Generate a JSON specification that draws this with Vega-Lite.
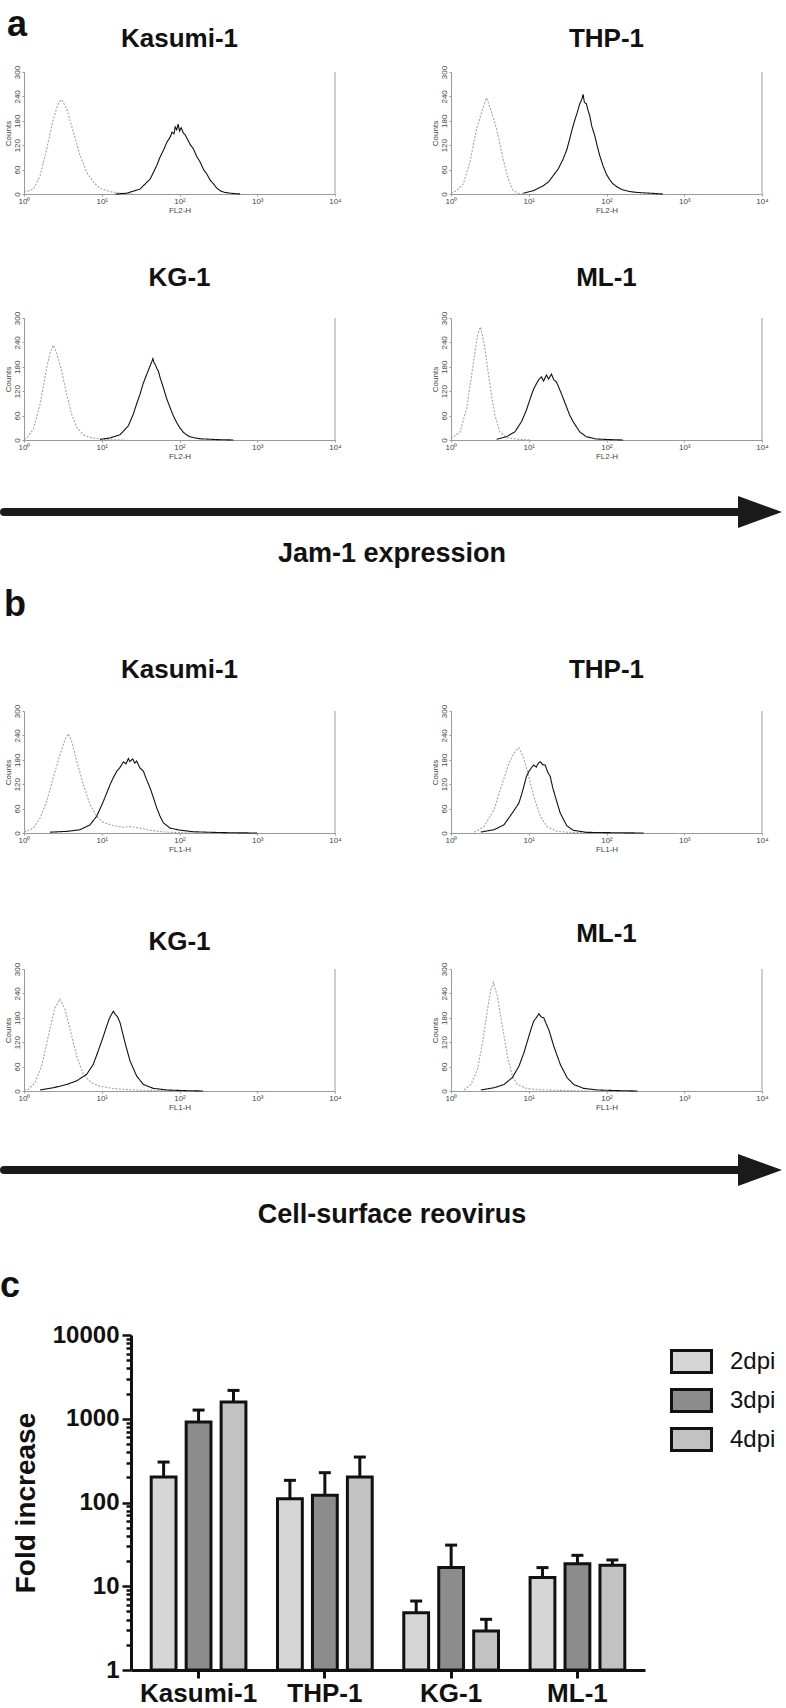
{
  "$schema": "https://vega.github.io/schema/vega-lite/v6.json",
  "padding": {"top": 7, "left": 0, "right": 0, "bottom": 0},
  "background": "white",
  "config": {
    "font": "Liberation Sans",
    "view": {"stroke": null},
    "title": {"font": "Liberation Sans", "color": "#111111"},
    "axis": {"grid": false, "domainColor": "#9a9a9a", "tickColor": "#9a9a9a", "labelColor": "#444444", "titleColor": "#444444", "labelFontSize": 8, "titleFontSize": 8, "titleFontWeight": "normal", "tickSize": 2, "labelPadding": 1, "titlePadding": 1, "labelFlush": false, "labelFont": "Liberation Sans", "titleFont": "Liberation Sans"},
    "axisY": {"labelAngle": 270, "labelAlign": "center", "labelBaseline": "bottom", "labelPadding": 1, "titlePadding": 1}
  },
  "datasets": {
    "hist": [
      {"panel":"a","cell":"Kasumi-1","series":"control","fl":1.0,"count":8},{"panel":"a","cell":"Kasumi-1","series":"control","fl":1.08,"count":6},{"panel":"a","cell":"Kasumi-1","series":"control","fl":1.32,"count":12},{"panel":"a","cell":"Kasumi-1","series":"control","fl":1.61,"count":45},{"panel":"a","cell":"Kasumi-1","series":"control","fl":1.96,"count":111},{"panel":"a","cell":"Kasumi-1","series":"control","fl":2.39,"count":185},{"panel":"a","cell":"Kasumi-1","series":"control","fl":2.77,"count":224},{"panel":"a","cell":"Kasumi-1","series":"control","fl":3.05,"count":232},{"panel":"a","cell":"Kasumi-1","series":"control","fl":3.54,"count":210},{"panel":"a","cell":"Kasumi-1","series":"control","fl":4.32,"count":152},{"panel":"a","cell":"Kasumi-1","series":"control","fl":5.26,"count":95},{"panel":"a","cell":"Kasumi-1","series":"control","fl":6.41,"count":53},{"panel":"a","cell":"Kasumi-1","series":"control","fl":7.81,"count":29},{"panel":"a","cell":"Kasumi-1","series":"control","fl":9.5,"count":14},{"panel":"a","cell":"Kasumi-1","series":"control","fl":12.8,"count":6},{"panel":"a","cell":"Kasumi-1","series":"control","fl":17.2,"count":2},{"panel":"a","cell":"Kasumi-1","series":"control","fl":25,"count":0},
      {"panel":"a","cell":"Kasumi-1","series":"sample","fl":15,"count":0},{"panel":"a","cell":"Kasumi-1","series":"sample","fl":21,"count":2},{"panel":"a","cell":"Kasumi-1","series":"sample","fl":31,"count":12},{"panel":"a","cell":"Kasumi-1","series":"sample","fl":42,"count":37},{"panel":"a","cell":"Kasumi-1","series":"sample","fl":51,"count":70},{"panel":"a","cell":"Kasumi-1","series":"sample","fl":56,"count":90},{"panel":"a","cell":"Kasumi-1","series":"sample","fl":62,"count":107},{"panel":"a","cell":"Kasumi-1","series":"sample","fl":69,"count":128},{"panel":"a","cell":"Kasumi-1","series":"sample","fl":76,"count":140},{"panel":"a","cell":"Kasumi-1","series":"sample","fl":80,"count":152},{"panel":"a","cell":"Kasumi-1","series":"sample","fl":85,"count":148},{"panel":"a","cell":"Kasumi-1","series":"sample","fl":88,"count":165},{"panel":"a","cell":"Kasumi-1","series":"sample","fl":92,"count":158},{"panel":"a","cell":"Kasumi-1","series":"sample","fl":96,"count":172},{"panel":"a","cell":"Kasumi-1","series":"sample","fl":100,"count":155},{"panel":"a","cell":"Kasumi-1","series":"sample","fl":105,"count":163},{"panel":"a","cell":"Kasumi-1","series":"sample","fl":112,"count":150},{"panel":"a","cell":"Kasumi-1","series":"sample","fl":118,"count":146},{"panel":"a","cell":"Kasumi-1","series":"sample","fl":124,"count":138},{"panel":"a","cell":"Kasumi-1","series":"sample","fl":137,"count":122},{"panel":"a","cell":"Kasumi-1","series":"sample","fl":151,"count":111},{"panel":"a","cell":"Kasumi-1","series":"sample","fl":167,"count":92},{"panel":"a","cell":"Kasumi-1","series":"sample","fl":185,"count":78},{"panel":"a","cell":"Kasumi-1","series":"sample","fl":204,"count":60},{"panel":"a","cell":"Kasumi-1","series":"sample","fl":225,"count":49},{"panel":"a","cell":"Kasumi-1","series":"sample","fl":248,"count":34},{"panel":"a","cell":"Kasumi-1","series":"sample","fl":274,"count":25},{"panel":"a","cell":"Kasumi-1","series":"sample","fl":300,"count":15},{"panel":"a","cell":"Kasumi-1","series":"sample","fl":334,"count":8},{"panel":"a","cell":"Kasumi-1","series":"sample","fl":380,"count":4},{"panel":"a","cell":"Kasumi-1","series":"sample","fl":449,"count":2},{"panel":"a","cell":"Kasumi-1","series":"sample","fl":603,"count":0},
      {"panel":"a","cell":"THP-1","series":"control","fl":1.0,"count":2},{"panel":"a","cell":"THP-1","series":"control","fl":1.18,"count":8},{"panel":"a","cell":"THP-1","series":"control","fl":1.44,"count":25},{"panel":"a","cell":"THP-1","series":"control","fl":1.75,"count":78},{"panel":"a","cell":"THP-1","series":"control","fl":2.13,"count":160},{"panel":"a","cell":"THP-1","series":"control","fl":2.48,"count":201},{"panel":"a","cell":"THP-1","series":"control","fl":2.72,"count":225},{"panel":"a","cell":"THP-1","series":"control","fl":2.87,"count":236},{"panel":"a","cell":"THP-1","series":"control","fl":3.05,"count":222},{"panel":"a","cell":"THP-1","series":"control","fl":3.33,"count":201},{"panel":"a","cell":"THP-1","series":"control","fl":3.86,"count":160},{"panel":"a","cell":"THP-1","series":"control","fl":4.69,"count":86},{"panel":"a","cell":"THP-1","series":"control","fl":5.44,"count":37},{"panel":"a","cell":"THP-1","series":"control","fl":6.31,"count":8},{"panel":"a","cell":"THP-1","series":"control","fl":7.31,"count":2},{"panel":"a","cell":"THP-1","series":"control","fl":8.5,"count":0},
      {"panel":"a","cell":"THP-1","series":"sample","fl":8.5,"count":2},{"panel":"a","cell":"THP-1","series":"sample","fl":11.4,"count":8},{"panel":"a","cell":"THP-1","series":"sample","fl":15.3,"count":20},{"panel":"a","cell":"THP-1","series":"sample","fl":18,"count":30},{"panel":"a","cell":"THP-1","series":"sample","fl":20.6,"count":45},{"panel":"a","cell":"THP-1","series":"sample","fl":24,"count":62},{"panel":"a","cell":"THP-1","series":"sample","fl":27.7,"count":86},{"panel":"a","cell":"THP-1","series":"sample","fl":31,"count":110},{"panel":"a","cell":"THP-1","series":"sample","fl":33.7,"count":136},{"panel":"a","cell":"THP-1","series":"sample","fl":36,"count":158},{"panel":"a","cell":"THP-1","series":"sample","fl":39,"count":181},{"panel":"a","cell":"THP-1","series":"sample","fl":42,"count":200},{"panel":"a","cell":"THP-1","series":"sample","fl":45.3,"count":222},{"panel":"a","cell":"THP-1","series":"sample","fl":48,"count":232},{"panel":"a","cell":"THP-1","series":"sample","fl":50,"count":245},{"panel":"a","cell":"THP-1","series":"sample","fl":52,"count":225},{"panel":"a","cell":"THP-1","series":"sample","fl":55.1,"count":222},{"panel":"a","cell":"THP-1","series":"sample","fl":58,"count":205},{"panel":"a","cell":"THP-1","series":"sample","fl":60.8,"count":193},{"panel":"a","cell":"THP-1","series":"sample","fl":65,"count":165},{"panel":"a","cell":"THP-1","series":"sample","fl":70.5,"count":144},{"panel":"a","cell":"THP-1","series":"sample","fl":76,"count":118},{"panel":"a","cell":"THP-1","series":"sample","fl":81.7,"count":95},{"panel":"a","cell":"THP-1","series":"sample","fl":90,"count":70},{"panel":"a","cell":"THP-1","series":"sample","fl":99.5,"count":49},{"panel":"a","cell":"THP-1","series":"sample","fl":110,"count":35},{"panel":"a","cell":"THP-1","series":"sample","fl":121,"count":25},{"panel":"a","cell":"THP-1","series":"sample","fl":140,"count":16},{"panel":"a","cell":"THP-1","series":"sample","fl":163,"count":10},{"panel":"a","cell":"THP-1","series":"sample","fl":200,"count":6},{"panel":"a","cell":"THP-1","series":"sample","fl":241,"count":4},{"panel":"a","cell":"THP-1","series":"sample","fl":358,"count":2},{"panel":"a","cell":"THP-1","series":"sample","fl":531,"count":0},
      {"panel":"a","cell":"KG-1","series":"control","fl":1.0,"count":2},{"panel":"a","cell":"KG-1","series":"control","fl":1.08,"count":4},{"panel":"a","cell":"KG-1","series":"control","fl":1.32,"count":27},{"panel":"a","cell":"KG-1","series":"control","fl":1.61,"count":88},{"panel":"a","cell":"KG-1","series":"control","fl":1.96,"count":178},{"panel":"a","cell":"KG-1","series":"control","fl":2.16,"count":214},{"panel":"a","cell":"KG-1","series":"control","fl":2.38,"count":233},{"panel":"a","cell":"KG-1","series":"control","fl":2.63,"count":214},{"panel":"a","cell":"KG-1","series":"control","fl":3.05,"count":170},{"panel":"a","cell":"KG-1","series":"control","fl":3.54,"count":112},{"panel":"a","cell":"KG-1","series":"control","fl":4.1,"count":64},{"panel":"a","cell":"KG-1","series":"control","fl":4.76,"count":31},{"panel":"a","cell":"KG-1","series":"control","fl":5.8,"count":13},{"panel":"a","cell":"KG-1","series":"control","fl":7.06,"count":6.5},{"panel":"a","cell":"KG-1","series":"control","fl":9.5,"count":2.4},{"panel":"a","cell":"KG-1","series":"control","fl":12.8,"count":0.5},{"panel":"a","cell":"KG-1","series":"control","fl":20,"count":0},
      {"panel":"a","cell":"KG-1","series":"sample","fl":9.5,"count":1.6},{"panel":"a","cell":"KG-1","series":"sample","fl":12.8,"count":5},{"panel":"a","cell":"KG-1","series":"sample","fl":17.2,"count":13},{"panel":"a","cell":"KG-1","series":"sample","fl":22,"count":35},{"panel":"a","cell":"KG-1","series":"sample","fl":25.5,"count":64},{"panel":"a","cell":"KG-1","series":"sample","fl":28,"count":88},{"panel":"a","cell":"KG-1","series":"sample","fl":31,"count":112},{"panel":"a","cell":"KG-1","series":"sample","fl":34,"count":138},{"panel":"a","cell":"KG-1","series":"sample","fl":37.8,"count":161},{"panel":"a","cell":"KG-1","series":"sample","fl":41,"count":178},{"panel":"a","cell":"KG-1","series":"sample","fl":43.9,"count":192},{"panel":"a","cell":"KG-1","series":"sample","fl":45.5,"count":200},{"panel":"a","cell":"KG-1","series":"sample","fl":47,"count":190},{"panel":"a","cell":"KG-1","series":"sample","fl":49,"count":185},{"panel":"a","cell":"KG-1","series":"sample","fl":51,"count":176},{"panel":"a","cell":"KG-1","series":"sample","fl":53.4,"count":170},{"panel":"a","cell":"KG-1","series":"sample","fl":57,"count":150},{"panel":"a","cell":"KG-1","series":"sample","fl":62,"count":129},{"panel":"a","cell":"KG-1","series":"sample","fl":68,"count":103},{"panel":"a","cell":"KG-1","series":"sample","fl":75.5,"count":80},{"panel":"a","cell":"KG-1","series":"sample","fl":83,"count":60},{"panel":"a","cell":"KG-1","series":"sample","fl":92,"count":43},{"panel":"a","cell":"KG-1","series":"sample","fl":101,"count":30},{"panel":"a","cell":"KG-1","series":"sample","fl":112,"count":19},{"panel":"a","cell":"KG-1","series":"sample","fl":123,"count":13},{"panel":"a","cell":"KG-1","series":"sample","fl":136,"count":8},{"panel":"a","cell":"KG-1","series":"sample","fl":160,"count":5},{"panel":"a","cell":"KG-1","series":"sample","fl":184,"count":3},{"panel":"a","cell":"KG-1","series":"sample","fl":301,"count":1},{"panel":"a","cell":"KG-1","series":"sample","fl":492,"count":0},
      {"panel":"a","cell":"ML-1","series":"control","fl":1.0,"count":3},{"panel":"a","cell":"ML-1","series":"control","fl":1.07,"count":8},{"panel":"a","cell":"ML-1","series":"control","fl":1.31,"count":20},{"panel":"a","cell":"ML-1","series":"control","fl":1.59,"count":78},{"panel":"a","cell":"ML-1","series":"control","fl":1.84,"count":159},{"panel":"a","cell":"ML-1","series":"control","fl":2.09,"count":233},{"panel":"a","cell":"ML-1","series":"control","fl":2.25,"count":265},{"panel":"a","cell":"ML-1","series":"control","fl":2.4,"count":278},{"panel":"a","cell":"ML-1","series":"control","fl":2.55,"count":255},{"panel":"a","cell":"ML-1","series":"control","fl":2.73,"count":225},{"panel":"a","cell":"ML-1","series":"control","fl":3.17,"count":135},{"panel":"a","cell":"ML-1","series":"control","fl":3.67,"count":61},{"panel":"a","cell":"ML-1","series":"control","fl":4.25,"count":20},{"panel":"a","cell":"ML-1","series":"control","fl":5.18,"count":6},{"panel":"a","cell":"ML-1","series":"control","fl":6.96,"count":2},{"panel":"a","cell":"ML-1","series":"control","fl":10.3,"count":0},
      {"panel":"a","cell":"ML-1","series":"sample","fl":3.86,"count":2},{"panel":"a","cell":"ML-1","series":"sample","fl":5.18,"count":8},{"panel":"a","cell":"ML-1","series":"sample","fl":6.63,"count":20},{"panel":"a","cell":"ML-1","series":"sample","fl":8.07,"count":45},{"panel":"a","cell":"ML-1","series":"sample","fl":9.35,"count":74},{"panel":"a","cell":"ML-1","series":"sample","fl":10.8,"count":110},{"panel":"a","cell":"ML-1","series":"sample","fl":11.6,"count":126},{"panel":"a","cell":"ML-1","series":"sample","fl":12.6,"count":139},{"panel":"a","cell":"ML-1","series":"sample","fl":13.6,"count":150},{"panel":"a","cell":"ML-1","series":"sample","fl":14.6,"count":155},{"panel":"a","cell":"ML-1","series":"sample","fl":15.5,"count":145},{"panel":"a","cell":"ML-1","series":"sample","fl":16.9,"count":160},{"panel":"a","cell":"ML-1","series":"sample","fl":18,"count":150},{"panel":"a","cell":"ML-1","series":"sample","fl":19.6,"count":162},{"panel":"a","cell":"ML-1","series":"sample","fl":21,"count":148},{"panel":"a","cell":"ML-1","series":"sample","fl":22.7,"count":143},{"panel":"a","cell":"ML-1","series":"sample","fl":24.5,"count":128},{"panel":"a","cell":"ML-1","series":"sample","fl":26.3,"count":114},{"panel":"a","cell":"ML-1","series":"sample","fl":30.5,"count":82},{"panel":"a","cell":"ML-1","series":"sample","fl":33.5,"count":62},{"panel":"a","cell":"ML-1","series":"sample","fl":37.2,"count":45},{"panel":"a","cell":"ML-1","series":"sample","fl":45.3,"count":20},{"panel":"a","cell":"ML-1","series":"sample","fl":55.1,"count":8},{"panel":"a","cell":"ML-1","series":"sample","fl":74,"count":2.5},{"panel":"a","cell":"ML-1","series":"sample","fl":110,"count":1},{"panel":"a","cell":"ML-1","series":"sample","fl":163,"count":0},
      {"panel":"b","cell":"Kasumi-1","series":"control","fl":1.0,"count":4},{"panel":"b","cell":"Kasumi-1","series":"control","fl":1.08,"count":4},{"panel":"b","cell":"Kasumi-1","series":"control","fl":1.32,"count":12},{"panel":"b","cell":"Kasumi-1","series":"control","fl":1.61,"count":37},{"panel":"b","cell":"Kasumi-1","series":"control","fl":1.96,"count":78},{"panel":"b","cell":"Kasumi-1","series":"control","fl":2.38,"count":136},{"panel":"b","cell":"Kasumi-1","series":"control","fl":2.9,"count":193},{"panel":"b","cell":"Kasumi-1","series":"control","fl":3.37,"count":230},{"panel":"b","cell":"Kasumi-1","series":"control","fl":3.72,"count":244},{"panel":"b","cell":"Kasumi-1","series":"control","fl":4.1,"count":226},{"panel":"b","cell":"Kasumi-1","series":"control","fl":4.76,"count":177},{"panel":"b","cell":"Kasumi-1","series":"control","fl":5.8,"count":119},{"panel":"b","cell":"Kasumi-1","series":"control","fl":7.06,"count":70},{"panel":"b","cell":"Kasumi-1","series":"control","fl":8.6,"count":41},{"panel":"b","cell":"Kasumi-1","series":"control","fl":10.5,"count":26},{"panel":"b","cell":"Kasumi-1","series":"control","fl":14.1,"count":18},{"panel":"b","cell":"Kasumi-1","series":"control","fl":19,"count":14},{"panel":"b","cell":"Kasumi-1","series":"control","fl":23,"count":16},{"panel":"b","cell":"Kasumi-1","series":"control","fl":31,"count":12},{"panel":"b","cell":"Kasumi-1","series":"control","fl":41.8,"count":7},{"panel":"b","cell":"Kasumi-1","series":"control","fl":62,"count":2.5},{"panel":"b","cell":"Kasumi-1","series":"control","fl":101,"count":1},{"panel":"b","cell":"Kasumi-1","series":"control","fl":150,"count":0},
      {"panel":"b","cell":"Kasumi-1","series":"sample","fl":2.16,"count":2},{"panel":"b","cell":"Kasumi-1","series":"sample","fl":3.54,"count":4},{"panel":"b","cell":"Kasumi-1","series":"sample","fl":5.25,"count":8},{"panel":"b","cell":"Kasumi-1","series":"sample","fl":7.06,"count":20},{"panel":"b","cell":"Kasumi-1","series":"sample","fl":8.6,"count":41},{"panel":"b","cell":"Kasumi-1","series":"sample","fl":10.5,"count":78},{"panel":"b","cell":"Kasumi-1","series":"sample","fl":12.8,"count":119},{"panel":"b","cell":"Kasumi-1","series":"sample","fl":14,"count":135},{"panel":"b","cell":"Kasumi-1","series":"sample","fl":15.6,"count":152},{"panel":"b","cell":"Kasumi-1","series":"sample","fl":17,"count":160},{"panel":"b","cell":"Kasumi-1","series":"sample","fl":19,"count":175},{"panel":"b","cell":"Kasumi-1","series":"sample","fl":20.5,"count":170},{"panel":"b","cell":"Kasumi-1","series":"sample","fl":22,"count":183},{"panel":"b","cell":"Kasumi-1","series":"sample","fl":23,"count":176},{"panel":"b","cell":"Kasumi-1","series":"sample","fl":25,"count":182},{"panel":"b","cell":"Kasumi-1","series":"sample","fl":26.5,"count":172},{"panel":"b","cell":"Kasumi-1","series":"sample","fl":28.1,"count":177},{"panel":"b","cell":"Kasumi-1","series":"sample","fl":31,"count":160},{"panel":"b","cell":"Kasumi-1","series":"sample","fl":34.3,"count":152},{"panel":"b","cell":"Kasumi-1","series":"sample","fl":38,"count":130},{"panel":"b","cell":"Kasumi-1","series":"sample","fl":41.8,"count":111},{"panel":"b","cell":"Kasumi-1","series":"sample","fl":46,"count":88},{"panel":"b","cell":"Kasumi-1","series":"sample","fl":50.9,"count":62},{"panel":"b","cell":"Kasumi-1","series":"sample","fl":56,"count":42},{"panel":"b","cell":"Kasumi-1","series":"sample","fl":62,"count":25},{"panel":"b","cell":"Kasumi-1","series":"sample","fl":75.5,"count":12},{"panel":"b","cell":"Kasumi-1","series":"sample","fl":101,"count":7},{"panel":"b","cell":"Kasumi-1","series":"sample","fl":151,"count":3},{"panel":"b","cell":"Kasumi-1","series":"sample","fl":272,"count":1.5},{"panel":"b","cell":"Kasumi-1","series":"sample","fl":500,"count":0.5},{"panel":"b","cell":"Kasumi-1","series":"sample","fl":1000,"count":0},
      {"panel":"b","cell":"THP-1","series":"control","fl":1.99,"count":2},{"panel":"b","cell":"THP-1","series":"control","fl":2.67,"count":16},{"panel":"b","cell":"THP-1","series":"control","fl":3.57,"count":57},{"panel":"b","cell":"THP-1","series":"control","fl":4.57,"count":122},{"panel":"b","cell":"THP-1","series":"control","fl":5.56,"count":171},{"panel":"b","cell":"THP-1","series":"control","fl":6.44,"count":196},{"panel":"b","cell":"THP-1","series":"control","fl":7.0,"count":205},{"panel":"b","cell":"THP-1","series":"control","fl":7.45,"count":210},{"panel":"b","cell":"THP-1","series":"control","fl":8.0,"count":198},{"panel":"b","cell":"THP-1","series":"control","fl":8.63,"count":183},{"panel":"b","cell":"THP-1","series":"control","fl":10,"count":139},{"panel":"b","cell":"THP-1","series":"control","fl":11.6,"count":90},{"panel":"b","cell":"THP-1","series":"control","fl":14.1,"count":41},{"panel":"b","cell":"THP-1","series":"control","fl":17.1,"count":16},{"panel":"b","cell":"THP-1","series":"control","fl":23,"count":4},{"panel":"b","cell":"THP-1","series":"control","fl":34,"count":1.6},{"panel":"b","cell":"THP-1","series":"control","fl":60,"count":0},
      {"panel":"b","cell":"THP-1","series":"sample","fl":2.42,"count":2.4},{"panel":"b","cell":"THP-1","series":"sample","fl":3.57,"count":8},{"panel":"b","cell":"THP-1","series":"sample","fl":4.8,"count":20},{"panel":"b","cell":"THP-1","series":"sample","fl":6.13,"count":49},{"panel":"b","cell":"THP-1","series":"sample","fl":7.45,"count":73},{"panel":"b","cell":"THP-1","series":"sample","fl":8.1,"count":95},{"panel":"b","cell":"THP-1","series":"sample","fl":8.63,"count":114},{"panel":"b","cell":"THP-1","series":"sample","fl":9.3,"count":138},{"panel":"b","cell":"THP-1","series":"sample","fl":10,"count":151},{"panel":"b","cell":"THP-1","series":"sample","fl":10.8,"count":160},{"panel":"b","cell":"THP-1","series":"sample","fl":11.6,"count":167},{"panel":"b","cell":"THP-1","series":"sample","fl":12.5,"count":162},{"panel":"b","cell":"THP-1","series":"sample","fl":13.3,"count":172},{"panel":"b","cell":"THP-1","series":"sample","fl":14.1,"count":175},{"panel":"b","cell":"THP-1","series":"sample","fl":15.1,"count":168},{"panel":"b","cell":"THP-1","series":"sample","fl":16.3,"count":167},{"panel":"b","cell":"THP-1","series":"sample","fl":17.5,"count":150},{"panel":"b","cell":"THP-1","series":"sample","fl":18.9,"count":139},{"panel":"b","cell":"THP-1","series":"sample","fl":20.3,"count":112},{"panel":"b","cell":"THP-1","series":"sample","fl":21.9,"count":90},{"panel":"b","cell":"THP-1","series":"sample","fl":25.4,"count":49},{"panel":"b","cell":"THP-1","series":"sample","fl":30.8,"count":18},{"panel":"b","cell":"THP-1","series":"sample","fl":37.5,"count":6.5},{"panel":"b","cell":"THP-1","series":"sample","fl":55.6,"count":1.6},{"panel":"b","cell":"THP-1","series":"sample","fl":148,"count":0.5},{"panel":"b","cell":"THP-1","series":"sample","fl":300,"count":0},
      {"panel":"b","cell":"KG-1","series":"control","fl":1.0,"count":3},{"panel":"b","cell":"KG-1","series":"control","fl":1.14,"count":4},{"panel":"b","cell":"KG-1","series":"control","fl":1.38,"count":20},{"panel":"b","cell":"KG-1","series":"control","fl":1.69,"count":62},{"panel":"b","cell":"KG-1","series":"control","fl":2.06,"count":136},{"panel":"b","cell":"KG-1","series":"control","fl":2.5,"count":205},{"panel":"b","cell":"KG-1","series":"control","fl":2.9,"count":226},{"panel":"b","cell":"KG-1","series":"control","fl":3.37,"count":201},{"panel":"b","cell":"KG-1","series":"control","fl":3.91,"count":152},{"panel":"b","cell":"KG-1","series":"control","fl":4.76,"count":86},{"panel":"b","cell":"KG-1","series":"control","fl":5.8,"count":41},{"panel":"b","cell":"KG-1","series":"control","fl":7.41,"count":20},{"panel":"b","cell":"KG-1","series":"control","fl":9.5,"count":12},{"panel":"b","cell":"KG-1","series":"control","fl":14.1,"count":6},{"panel":"b","cell":"KG-1","series":"control","fl":25.5,"count":2.5},{"panel":"b","cell":"KG-1","series":"control","fl":56,"count":1},{"panel":"b","cell":"KG-1","series":"control","fl":100,"count":0},
      {"panel":"b","cell":"KG-1","series":"sample","fl":1.61,"count":2.5},{"panel":"b","cell":"KG-1","series":"sample","fl":2.38,"count":8},{"panel":"b","cell":"KG-1","series":"sample","fl":3.54,"count":16},{"panel":"b","cell":"KG-1","series":"sample","fl":4.76,"count":25},{"panel":"b","cell":"KG-1","series":"sample","fl":6.4,"count":41},{"panel":"b","cell":"KG-1","series":"sample","fl":7.8,"count":66},{"panel":"b","cell":"KG-1","series":"sample","fl":9.5,"count":111},{"panel":"b","cell":"KG-1","series":"sample","fl":10.5,"count":135},{"panel":"b","cell":"KG-1","series":"sample","fl":11.6,"count":160},{"panel":"b","cell":"KG-1","series":"sample","fl":12.5,"count":178},{"panel":"b","cell":"KG-1","series":"sample","fl":13.4,"count":189},{"panel":"b","cell":"KG-1","series":"sample","fl":14.1,"count":196},{"panel":"b","cell":"KG-1","series":"sample","fl":15,"count":188},{"panel":"b","cell":"KG-1","series":"sample","fl":16,"count":182},{"panel":"b","cell":"KG-1","series":"sample","fl":17.2,"count":168},{"panel":"b","cell":"KG-1","series":"sample","fl":19.9,"count":119},{"panel":"b","cell":"KG-1","series":"sample","fl":23.1,"count":74},{"panel":"b","cell":"KG-1","series":"sample","fl":28.1,"count":37},{"panel":"b","cell":"KG-1","series":"sample","fl":34.3,"count":16},{"panel":"b","cell":"KG-1","series":"sample","fl":46,"count":6.5},{"panel":"b","cell":"KG-1","series":"sample","fl":68.4,"count":2.5},{"panel":"b","cell":"KG-1","series":"sample","fl":124,"count":0.8},{"panel":"b","cell":"KG-1","series":"sample","fl":200,"count":0},
      {"panel":"b","cell":"ML-1","series":"control","fl":1.48,"count":2.5},{"panel":"b","cell":"ML-1","series":"control","fl":1.8,"count":16},{"panel":"b","cell":"ML-1","series":"control","fl":2.19,"count":53},{"panel":"b","cell":"ML-1","series":"control","fl":2.54,"count":118},{"panel":"b","cell":"ML-1","series":"control","fl":2.94,"count":200},{"panel":"b","cell":"ML-1","series":"control","fl":3.25,"count":249},{"panel":"b","cell":"ML-1","series":"control","fl":3.51,"count":267},{"panel":"b","cell":"ML-1","series":"control","fl":3.95,"count":233},{"panel":"b","cell":"ML-1","series":"control","fl":4.58,"count":159},{"panel":"b","cell":"ML-1","series":"control","fl":5.31,"count":86},{"panel":"b","cell":"ML-1","series":"control","fl":6.15,"count":37},{"panel":"b","cell":"ML-1","series":"control","fl":7.13,"count":16},{"panel":"b","cell":"ML-1","series":"control","fl":9.57,"count":6},{"panel":"b","cell":"ML-1","series":"control","fl":15.6,"count":2.5},{"panel":"b","cell":"ML-1","series":"control","fl":40,"count":0.8},{"panel":"b","cell":"ML-1","series":"control","fl":60,"count":0},
      {"panel":"b","cell":"ML-1","series":"sample","fl":2.42,"count":2.5},{"panel":"b","cell":"ML-1","series":"sample","fl":3.58,"count":8},{"panel":"b","cell":"ML-1","series":"sample","fl":4.81,"count":16},{"panel":"b","cell":"ML-1","series":"sample","fl":6.15,"count":33},{"panel":"b","cell":"ML-1","series":"sample","fl":7.48,"count":61},{"panel":"b","cell":"ML-1","series":"sample","fl":8.67,"count":94},{"panel":"b","cell":"ML-1","series":"sample","fl":10.05,"count":135},{"panel":"b","cell":"ML-1","series":"sample","fl":10.8,"count":155},{"panel":"b","cell":"ML-1","series":"sample","fl":11.6,"count":172},{"panel":"b","cell":"ML-1","series":"sample","fl":12.5,"count":180},{"panel":"b","cell":"ML-1","series":"sample","fl":13.5,"count":190},{"panel":"b","cell":"ML-1","series":"sample","fl":14.5,"count":182},{"panel":"b","cell":"ML-1","series":"sample","fl":15.6,"count":180},{"panel":"b","cell":"ML-1","series":"sample","fl":16.8,"count":165},{"panel":"b","cell":"ML-1","series":"sample","fl":18.1,"count":151},{"panel":"b","cell":"ML-1","series":"sample","fl":21,"count":110},{"panel":"b","cell":"ML-1","series":"sample","fl":25.5,"count":65},{"panel":"b","cell":"ML-1","series":"sample","fl":31.1,"count":33},{"panel":"b","cell":"ML-1","series":"sample","fl":37.8,"count":16},{"panel":"b","cell":"ML-1","series":"sample","fl":50.8,"count":6.5},{"panel":"b","cell":"ML-1","series":"sample","fl":75.2,"count":2.5},{"panel":"b","cell":"ML-1","series":"sample","fl":150,"count":0.8},{"panel":"b","cell":"ML-1","series":"sample","fl":250,"count":0}
    ],
    "growth": [
      {"cell":"Kasumi-1","dpi":"2dpi","mean":201,"upper":304},{"cell":"Kasumi-1","dpi":"3dpi","mean":914,"upper":1270},{"cell":"Kasumi-1","dpi":"4dpi","mean":1582,"upper":2180},
      {"cell":"THP-1","dpi":"2dpi","mean":111,"upper":184},{"cell":"THP-1","dpi":"3dpi","mean":122,"upper":227},{"cell":"THP-1","dpi":"4dpi","mean":201,"upper":349},
      {"cell":"KG-1","dpi":"2dpi","mean":4.83,"upper":6.66},{"cell":"KG-1","dpi":"3dpi","mean":16.7,"upper":31},{"cell":"KG-1","dpi":"4dpi","mean":2.92,"upper":4.03},
      {"cell":"ML-1","dpi":"2dpi","mean":12.7,"upper":16.7},{"cell":"ML-1","dpi":"3dpi","mean":18.6,"upper":23.4},{"cell":"ML-1","dpi":"4dpi","mean":17.8,"upper":20.6}
    ]
  },
  "resolve": {"scale": {"fill": "independent"}, "legend": {"fill": "independent"}},
  "columns": 1,
  "spacing": 20,
  "concat": [
    {
      "title": {"text": "a", "anchor": "start", "dx": 3, "fontSize": 36, "fontWeight": "bold", "offset": -18},
      "columns": 2,
      "bounds": "flush",
      "spacing": {"row": 124, "column": 116},
      "concat": [
        {"width": 311, "height": 122, "title": {"text": "Kasumi-1", "fontSize": 26, "fontWeight": "bold", "offset": 13},
         "layer": [
           {"data": {"name": "hist"}, "transform": [{"filter": "datum.panel === 'a' && datum.cell === 'Kasumi-1'"}], "mark": {"type": "line", "strokeWidth": 1.1},
            "encoding": {"x": {"field": "fl", "type": "quantitative", "scale": {"type": "log", "domain": [1, 10000]}, "axis": {"values": [1, 10, 100, 1000, 10000], "labelExpr": "'10' + ['⁰','¹','²','³','⁴'][round(log(datum.value)/LN10)]", "title": "FL2-H"}},
                         "y": {"field": "count", "type": "quantitative", "scale": {"domain": [0, 300]}, "axis": {"values": [0, 60, 120, 180, 240, 300], "title": "Counts"}},
                         "color": {"field": "series", "type": "nominal", "scale": {"domain": ["control", "sample"], "range": ["#a3a3a3", "#111111"]}, "legend": null},
                         "strokeDash": {"field": "series", "type": "nominal", "scale": {"domain": ["control", "sample"], "range": [[2, 1.5], [1, 0]]}, "legend": null}}},
           {"data": {"values": [{}]}, "mark": {"type": "rule", "color": "#9a9a9a", "strokeWidth": 1}, "encoding": {"x": {"datum": 10000}}}
         ]},
        {"width": 311, "height": 122, "title": {"text": "THP-1", "fontSize": 26, "fontWeight": "bold", "offset": 13},
         "layer": [
           {"data": {"name": "hist"}, "transform": [{"filter": "datum.panel === 'a' && datum.cell === 'THP-1'"}], "mark": {"type": "line", "strokeWidth": 1.1},
            "encoding": {"x": {"field": "fl", "type": "quantitative", "scale": {"type": "log", "domain": [1, 10000]}, "axis": {"values": [1, 10, 100, 1000, 10000], "labelExpr": "'10' + ['⁰','¹','²','³','⁴'][round(log(datum.value)/LN10)]", "title": "FL2-H"}},
                         "y": {"field": "count", "type": "quantitative", "scale": {"domain": [0, 300]}, "axis": {"values": [0, 60, 120, 180, 240, 300], "title": "Counts"}},
                         "color": {"field": "series", "type": "nominal", "scale": {"domain": ["control", "sample"], "range": ["#a3a3a3", "#111111"]}, "legend": null},
                         "strokeDash": {"field": "series", "type": "nominal", "scale": {"domain": ["control", "sample"], "range": [[2, 1.5], [1, 0]]}, "legend": null}}},
           {"data": {"values": [{}]}, "mark": {"type": "rule", "color": "#9a9a9a", "strokeWidth": 1}, "encoding": {"x": {"datum": 10000}}}
         ]},
        {"width": 311, "height": 122, "title": {"text": "KG-1", "fontSize": 26, "fontWeight": "bold", "offset": 20},
         "layer": [
           {"data": {"name": "hist"}, "transform": [{"filter": "datum.panel === 'a' && datum.cell === 'KG-1'"}], "mark": {"type": "line", "strokeWidth": 1.1},
            "encoding": {"x": {"field": "fl", "type": "quantitative", "scale": {"type": "log", "domain": [1, 10000]}, "axis": {"values": [1, 10, 100, 1000, 10000], "labelExpr": "'10' + ['⁰','¹','²','³','⁴'][round(log(datum.value)/LN10)]", "title": "FL2-H"}},
                         "y": {"field": "count", "type": "quantitative", "scale": {"domain": [0, 300]}, "axis": {"values": [0, 60, 120, 180, 240, 300], "title": "Counts"}},
                         "color": {"field": "series", "type": "nominal", "scale": {"domain": ["control", "sample"], "range": ["#a3a3a3", "#111111"]}, "legend": null},
                         "strokeDash": {"field": "series", "type": "nominal", "scale": {"domain": ["control", "sample"], "range": [[2, 1.5], [1, 0]]}, "legend": null}}},
           {"data": {"values": [{}]}, "mark": {"type": "rule", "color": "#9a9a9a", "strokeWidth": 1}, "encoding": {"x": {"datum": 10000}}}
         ]},
        {"width": 311, "height": 122, "title": {"text": "ML-1", "fontSize": 26, "fontWeight": "bold", "offset": 20},
         "layer": [
           {"data": {"name": "hist"}, "transform": [{"filter": "datum.panel === 'a' && datum.cell === 'ML-1'"}], "mark": {"type": "line", "strokeWidth": 1.1},
            "encoding": {"x": {"field": "fl", "type": "quantitative", "scale": {"type": "log", "domain": [1, 10000]}, "axis": {"values": [1, 10, 100, 1000, 10000], "labelExpr": "'10' + ['⁰','¹','²','³','⁴'][round(log(datum.value)/LN10)]", "title": "FL2-H"}},
                         "y": {"field": "count", "type": "quantitative", "scale": {"domain": [0, 300]}, "axis": {"values": [0, 60, 120, 180, 240, 300], "title": "Counts"}},
                         "color": {"field": "series", "type": "nominal", "scale": {"domain": ["control", "sample"], "range": ["#a3a3a3", "#111111"]}, "legend": null},
                         "strokeDash": {"field": "series", "type": "nominal", "scale": {"domain": ["control", "sample"], "range": [[2, 1.5], [1, 0]]}, "legend": null}}},
           {"data": {"values": [{}]}, "mark": {"type": "rule", "color": "#9a9a9a", "strokeWidth": 1}, "encoding": {"x": {"datum": 10000}}}
         ]}
      ]
    },
    {
      "width": 736, "height": 64,
      "data": {"values": [{"low": 0, "high": 1}]},
      "title": {"text": "Jam-1 expression", "orient": "bottom", "fontSize": 27, "fontWeight": "bold", "offset": -3},
      "layer": [
        {"mark": {"type": "rule", "strokeWidth": 8, "strokeCap": "round", "color": "#1a1a1a"},
         "encoding": {"x": {"field": "low", "type": "quantitative", "scale": {"domain": [0, 1], "range": [-20, 736]}, "axis": null}, "x2": {"field": "high"}, "y": {"datum": 0, "type": "quantitative", "scale": {"domain": [-1, 1]}, "axis": null}}},
        {"mark": {"type": "point", "shape": "M-1,-0.73L1,0L-1,0.73Z", "size": 1936, "filled": true, "color": "#1a1a1a", "opacity": 1},
         "encoding": {"x": {"field": "high", "type": "quantitative"}, "y": {"datum": 0, "type": "quantitative"}}}
      ]
    },
    {
      "title": {"text": "b", "anchor": "start", "fontSize": 36, "fontWeight": "bold", "offset": 33},
      "columns": 2,
      "bounds": "flush",
      "spacing": {"row": 136, "column": 116},
      "concat": [
        {"width": 311, "height": 122, "title": {"text": "Kasumi-1", "fontSize": 26, "fontWeight": "bold", "offset": 21},
         "layer": [
           {"data": {"name": "hist"}, "transform": [{"filter": "datum.panel === 'b' && datum.cell === 'Kasumi-1'"}], "mark": {"type": "line", "strokeWidth": 1.1},
            "encoding": {"x": {"field": "fl", "type": "quantitative", "scale": {"type": "log", "domain": [1, 10000]}, "axis": {"values": [1, 10, 100, 1000, 10000], "labelExpr": "'10' + ['⁰','¹','²','³','⁴'][round(log(datum.value)/LN10)]", "title": "FL1-H"}},
                         "y": {"field": "count", "type": "quantitative", "scale": {"domain": [0, 300]}, "axis": {"values": [0, 60, 120, 180, 240, 300], "title": "Counts"}},
                         "color": {"field": "series", "type": "nominal", "scale": {"domain": ["control", "sample"], "range": ["#a3a3a3", "#111111"]}, "legend": null},
                         "strokeDash": {"field": "series", "type": "nominal", "scale": {"domain": ["control", "sample"], "range": [[2, 1.5], [1, 0]]}, "legend": null}}},
           {"data": {"values": [{}]}, "mark": {"type": "rule", "color": "#9a9a9a", "strokeWidth": 1}, "encoding": {"x": {"datum": 10000}}}
         ]},
        {"width": 311, "height": 122, "title": {"text": "THP-1", "fontSize": 26, "fontWeight": "bold", "offset": 21},
         "layer": [
           {"data": {"name": "hist"}, "transform": [{"filter": "datum.panel === 'b' && datum.cell === 'THP-1'"}], "mark": {"type": "line", "strokeWidth": 1.1},
            "encoding": {"x": {"field": "fl", "type": "quantitative", "scale": {"type": "log", "domain": [1, 10000]}, "axis": {"values": [1, 10, 100, 1000, 10000], "labelExpr": "'10' + ['⁰','¹','²','³','⁴'][round(log(datum.value)/LN10)]", "title": "FL1-H"}},
                         "y": {"field": "count", "type": "quantitative", "scale": {"domain": [0, 300]}, "axis": {"values": [0, 60, 120, 180, 240, 300], "title": "Counts"}},
                         "color": {"field": "series", "type": "nominal", "scale": {"domain": ["control", "sample"], "range": ["#a3a3a3", "#111111"]}, "legend": null},
                         "strokeDash": {"field": "series", "type": "nominal", "scale": {"domain": ["control", "sample"], "range": [[2, 1.5], [1, 0]]}, "legend": null}}},
           {"data": {"values": [{}]}, "mark": {"type": "rule", "color": "#9a9a9a", "strokeWidth": 1}, "encoding": {"x": {"datum": 10000}}}
         ]},
        {"width": 311, "height": 122, "title": {"text": "KG-1", "fontSize": 26, "fontWeight": "bold", "offset": 7},
         "layer": [
           {"data": {"name": "hist"}, "transform": [{"filter": "datum.panel === 'b' && datum.cell === 'KG-1'"}], "mark": {"type": "line", "strokeWidth": 1.1},
            "encoding": {"x": {"field": "fl", "type": "quantitative", "scale": {"type": "log", "domain": [1, 10000]}, "axis": {"values": [1, 10, 100, 1000, 10000], "labelExpr": "'10' + ['⁰','¹','²','³','⁴'][round(log(datum.value)/LN10)]", "title": "FL1-H"}},
                         "y": {"field": "count", "type": "quantitative", "scale": {"domain": [0, 300]}, "axis": {"values": [0, 60, 120, 180, 240, 300], "title": "Counts"}},
                         "color": {"field": "series", "type": "nominal", "scale": {"domain": ["control", "sample"], "range": ["#a3a3a3", "#111111"]}, "legend": null},
                         "strokeDash": {"field": "series", "type": "nominal", "scale": {"domain": ["control", "sample"], "range": [[2, 1.5], [1, 0]]}, "legend": null}}},
           {"data": {"values": [{}]}, "mark": {"type": "rule", "color": "#9a9a9a", "strokeWidth": 1}, "encoding": {"x": {"datum": 10000}}}
         ]},
        {"width": 311, "height": 122, "title": {"text": "ML-1", "fontSize": 26, "fontWeight": "bold", "offset": 15},
         "layer": [
           {"data": {"name": "hist"}, "transform": [{"filter": "datum.panel === 'b' && datum.cell === 'ML-1'"}], "mark": {"type": "line", "strokeWidth": 1.1},
            "encoding": {"x": {"field": "fl", "type": "quantitative", "scale": {"type": "log", "domain": [1, 10000]}, "axis": {"values": [1, 10, 100, 1000, 10000], "labelExpr": "'10' + ['⁰','¹','²','³','⁴'][round(log(datum.value)/LN10)]", "title": "FL1-H"}},
                         "y": {"field": "count", "type": "quantitative", "scale": {"domain": [0, 300]}, "axis": {"values": [0, 60, 120, 180, 240, 300], "title": "Counts"}},
                         "color": {"field": "series", "type": "nominal", "scale": {"domain": ["control", "sample"], "range": ["#a3a3a3", "#111111"]}, "legend": null},
                         "strokeDash": {"field": "series", "type": "nominal", "scale": {"domain": ["control", "sample"], "range": [[2, 1.5], [1, 0]]}, "legend": null}}},
           {"data": {"values": [{}]}, "mark": {"type": "rule", "color": "#9a9a9a", "strokeWidth": 1}, "encoding": {"x": {"datum": 10000}}}
         ]}
      ]
    },
    {
      "width": 736, "height": 78,
      "data": {"values": [{"low": 0, "high": 1}]},
      "title": {"text": "Cell-surface reovirus", "orient": "bottom", "fontSize": 27, "fontWeight": "bold", "offset": -7},
      "layer": [
        {"mark": {"type": "rule", "strokeWidth": 8, "strokeCap": "round", "color": "#1a1a1a"},
         "encoding": {"x": {"field": "low", "type": "quantitative", "scale": {"domain": [0, 1], "range": [-20, 736]}, "axis": null}, "x2": {"field": "high"}, "y": {"datum": 0, "type": "quantitative", "scale": {"domain": [-1, 1]}, "axis": null}}},
        {"mark": {"type": "point", "shape": "M-1,-0.73L1,0L-1,0.73Z", "size": 1936, "filled": true, "color": "#1a1a1a", "opacity": 1},
         "encoding": {"x": {"field": "high", "type": "quantitative"}, "y": {"datum": 0, "type": "quantitative"}}}
      ]
    },
    {
      "width": 621, "height": 335,
      "title": {"text": [" ", "c"], "lineHeight": 20, "anchor": "start", "frame": "group", "dx": -24, "fontSize": 36, "fontWeight": "bold", "offset": 18},
      "data": {"name": "growth"},
      "encoding": {
        "x": {"field": "cell", "type": "nominal", "sort": ["Kasumi-1", "THP-1", "KG-1", "ML-1"], "scale": {"range": [107, 621], "paddingInner": 0.25, "paddingOuter": 0.16},
              "axis": {"title": null, "labelAngle": 0, "labelAlign": "center", "labelBaseline": "top", "labelFontSize": 26, "labelFontWeight": "bold", "labelColor": "#111111", "domainColor": "#111111", "domainWidth": 3, "tickColor": "#111111", "tickWidth": 3, "tickSize": 8, "labelPadding": 2}},
        "xOffset": {"field": "dpi", "type": "nominal", "sort": ["2dpi", "3dpi", "4dpi"], "scale": {"paddingInner": 0.29}}
      },
      "layer": [
        {"mark": {"type": "bar", "stroke": "#111111", "strokeWidth": 3},
         "encoding": {
           "y": {"field": "mean", "type": "quantitative", "scale": {"type": "log", "domain": [1, 10000]},
                 "axis": {"values": [1,2,3,4,5,6,7,8,9,10,20,30,40,50,60,70,80,90,100,200,300,400,500,600,700,800,900,1000,2000,3000,4000,5000,6000,7000,8000,9000,10000],
                          "labelExpr": "(datum.value == 1 || datum.value == 10 || datum.value == 100 || datum.value == 1000 || datum.value == 10000) ? format(datum.value, 'd') : ''",
                          "offset": -107,
                          "title": "Fold increase", "labelAngle": 0, "labelAlign": "right", "labelBaseline": "middle", "labelFontSize": 24, "labelFontWeight": "bold", "labelColor": "#111111",
                          "titleFontSize": 28, "titleFontWeight": "bold", "titleColor": "#111111", "titlePadding": 12,
                          "domainColor": "#111111", "domainWidth": 3, "tickColor": "#111111", "tickWidth": 2.5,
                          "tickSize": {"condition": {"test": "datum.value == 1 || datum.value == 10 || datum.value == 100 || datum.value == 1000 || datum.value == 10000", "value": 9}, "value": 5},
                          "labelPadding": 3, "labelOverlap": false}},
           "y2": {"datum": 1},
           "fill": {"field": "dpi", "type": "nominal", "scale": {"domain": ["2dpi", "3dpi", "4dpi"], "range": ["#d6d6d6", "#8c8c8c", "#c2c2c2"]},
                    "legend": {"title": null, "orient": "none", "legendX": 646, "legendY": 5, "padding": 0, "symbolType": "M-1,-0.55L1,-0.55L1,0.55L-1,0.55Z", "symbolSize": 1600, "symbolStrokeColor": "#111111", "symbolStrokeWidth": 3, "labelFontSize": 24, "labelColor": "#111111", "labelOffset": 17, "rowPadding": 0}}
         }},
        {"mark": {"type": "rule", "strokeWidth": 3, "color": "#111111"},
         "encoding": {"y": {"field": "mean", "type": "quantitative"}, "y2": {"field": "upper"}}},
        {"mark": {"type": "tick", "thickness": 3, "size": 12, "color": "#111111", "opacity": 1},
         "encoding": {"y": {"field": "upper", "type": "quantitative"}}}
      ]
    }
  ]
}
